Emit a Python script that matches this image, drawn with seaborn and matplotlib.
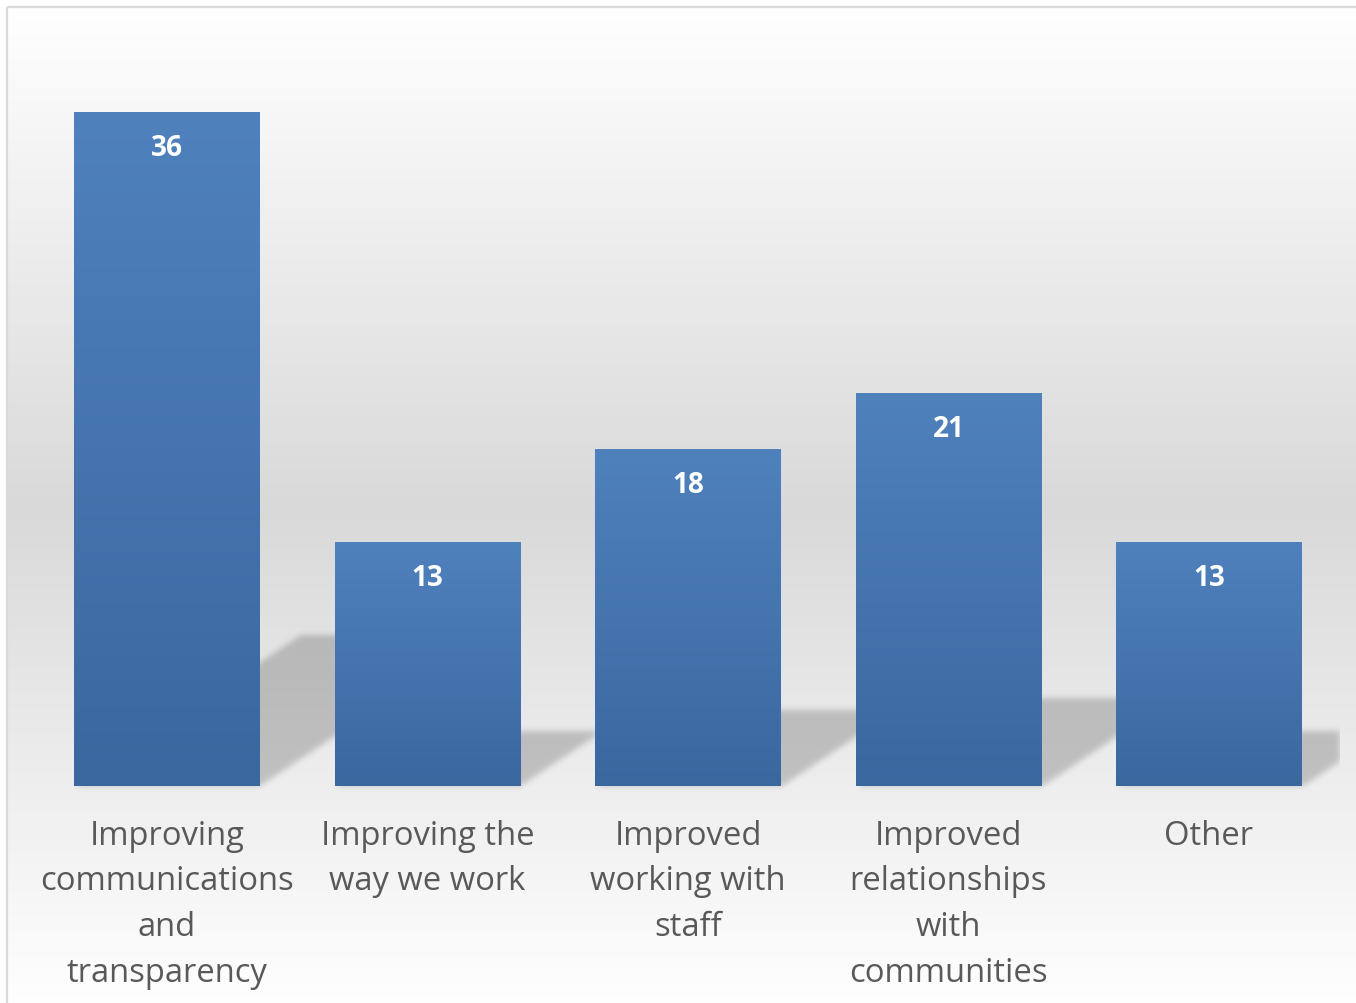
import numpy as np
import pandas as pd
import matplotlib
matplotlib.use("Agg")
import matplotlib.pyplot as plt
import seaborn as sns
from matplotlib.colors import to_rgb

# Survey results: number of responses per improvement area
categories = [
    "Improving\ncommunications\nand\ntransparency",
    "Improving the\nway we work",
    "Improved\nworking with\nstaff",
    "Improved\nrelationships\nwith\ncommunities",
    "Other",
]
counts = [36, 13, 18, 21, 13]

W, H, DPI = 1356, 1004, 100

sns.set_theme(style="white")
plt.rcParams["font.family"] = ["Open Sans", "DejaVu Sans"]

fig = plt.figure(figsize=(W / DPI, H / DPI), dpi=DPI)
fig.patch.set_facecolor("white")

# ---- chart-area background: white -> light grey -> white vertical gradient
bg = fig.add_axes([0, 0, 1, 1], zorder=0)
bg.set_xlim(0, W)
bg.set_ylim(H, 0)
bg.axis("off")
top_px, span_px = 8, 1004
rows = np.linspace(top_px, H, 400)
t = np.clip((rows - top_px) / span_px, 0, 1)
lo, hi = 217 / 255, 1.0
g = np.where(t < 0.5, hi - (hi - lo) * t / 0.5, lo + (hi - lo) * (t - 0.5) / 0.5)
bg_img = np.dstack([g, g, g]).reshape(len(g), 1, 3)
bg.imshow(bg_img, extent=(7, W + 5, H, top_px), aspect="auto",
          interpolation="bilinear", origin="upper")
# chart frame (top and left edges)
bg.plot([7, 7], [H + 5, 8], color="#d9d9d9", lw=1.6, solid_capstyle="butt")
bg.plot([7, W + 5], [8, 8], color="#d9d9d9", lw=1.6, solid_capstyle="butt")

# ---- plot area
ax_left, ax_right = 36.75, 1339.25
ax_top, ax_bottom = 39, 787
ax = fig.add_axes([ax_left / W, (H - ax_bottom) / H,
                   (ax_right - ax_left) / W, (ax_bottom - ax_top) / H], zorder=1)
ax.patch.set_alpha(0)

df = pd.DataFrame({"category": categories, "count": counts})
bar_width = 0.714
sns.barplot(data=df, x="category", y="count", ax=ax, width=bar_width,
            color="#4f81bd", saturation=1, linewidth=0, edgecolor="none",
            zorder=3)
ax.set_xlim(-0.5, 4.5)
ax.set_ylim(0, 40)

# pixel scale of the plot area
px_x = (ax_right - ax_left) / 5.0
px_y = (ax_bottom - ax_top) / 40.0

# ---- perspective drop shadows (squashed and skewed to the upper right)
shadow_scale, skew = 0.225, 1.5
below = 6
nx = int(round(ax_right - ax_left))
ny = int(round((ax_bottom - ax_top))) + below
X = np.arange(nx)[None, :] + 0.5
Y = (ny - below) - (np.arange(ny)[:, None] + 0.5)   # pixels above baseline
mask = np.zeros((ny, nx))
for i, v in enumerate(counts):
    x0 = (i - bar_width / 2 + 0.5) * px_x
    x1 = (i + bar_width / 2 + 0.5) * px_x
    hs = shadow_scale * v * px_y
    inside = (Y >= 0) & (Y <= hs) & (X >= x0 + skew * Y) & (X <= x1 + skew * Y)
    mask = np.maximum(mask, inside.astype(float))

def blur(a, sigma):
    r = int(3 * sigma)
    k = np.exp(-0.5 * (np.arange(-r, r + 1) / sigma) ** 2)
    k /= k.sum()
    a = np.apply_along_axis(lambda m: np.convolve(m, k, mode="same"), 0, a)
    a = np.apply_along_axis(lambda m: np.convolve(m, k, mode="same"), 1, a)
    return a

mask = blur(mask, 3.0)
shadow = np.zeros((ny, nx, 4))
shadow[..., 3] = 0.19 * mask
ax.imshow(shadow, extent=(-0.5, 4.5, -below / px_y, 40), aspect="auto",
          origin="upper", zorder=2, clip_on=False, interpolation="nearest")

# ---- vertical gradient fill for each bar
c_top = np.array(to_rgb("#4f81bd"))
c_bot = np.array(to_rgb("#3b679f"))
grad = np.linspace(0, 1, 256)[:, None]
bar_img = (c_top[None, :] * (1 - grad) + c_bot[None, :] * grad)[:, None, :]
for p in ax.patches:
    x0, w, h = p.get_x(), p.get_width(), p.get_height()
    ax.imshow(bar_img, extent=(x0, x0 + w, 0, h), aspect="auto",
              origin="upper", zorder=4, interpolation="bilinear")

# ---- value labels inside the top of each bar
for i, v in enumerate(counts):
    ax.annotate(str(v), (i, v), xytext=(0, -25.0), textcoords="offset points",
                ha="center", va="center", color="white", fontsize=20.2,
                fontweight="bold", zorder=5)

ax.set_xticks(range(len(categories)))
ax.set_xticklabels(categories, fontsize=23.6, color="#595959", linespacing=1.51)
ax.tick_params(axis="x", length=0, pad=23.5)
ax.set_yticks([])
ax.set_xlabel("")
ax.set_ylabel("")
sns.despine(ax=ax, left=True, bottom=True)
ax.set_xlim(-0.5, 4.5)
ax.set_ylim(0, 40)

fig.savefig("out.png", dpi=DPI)
